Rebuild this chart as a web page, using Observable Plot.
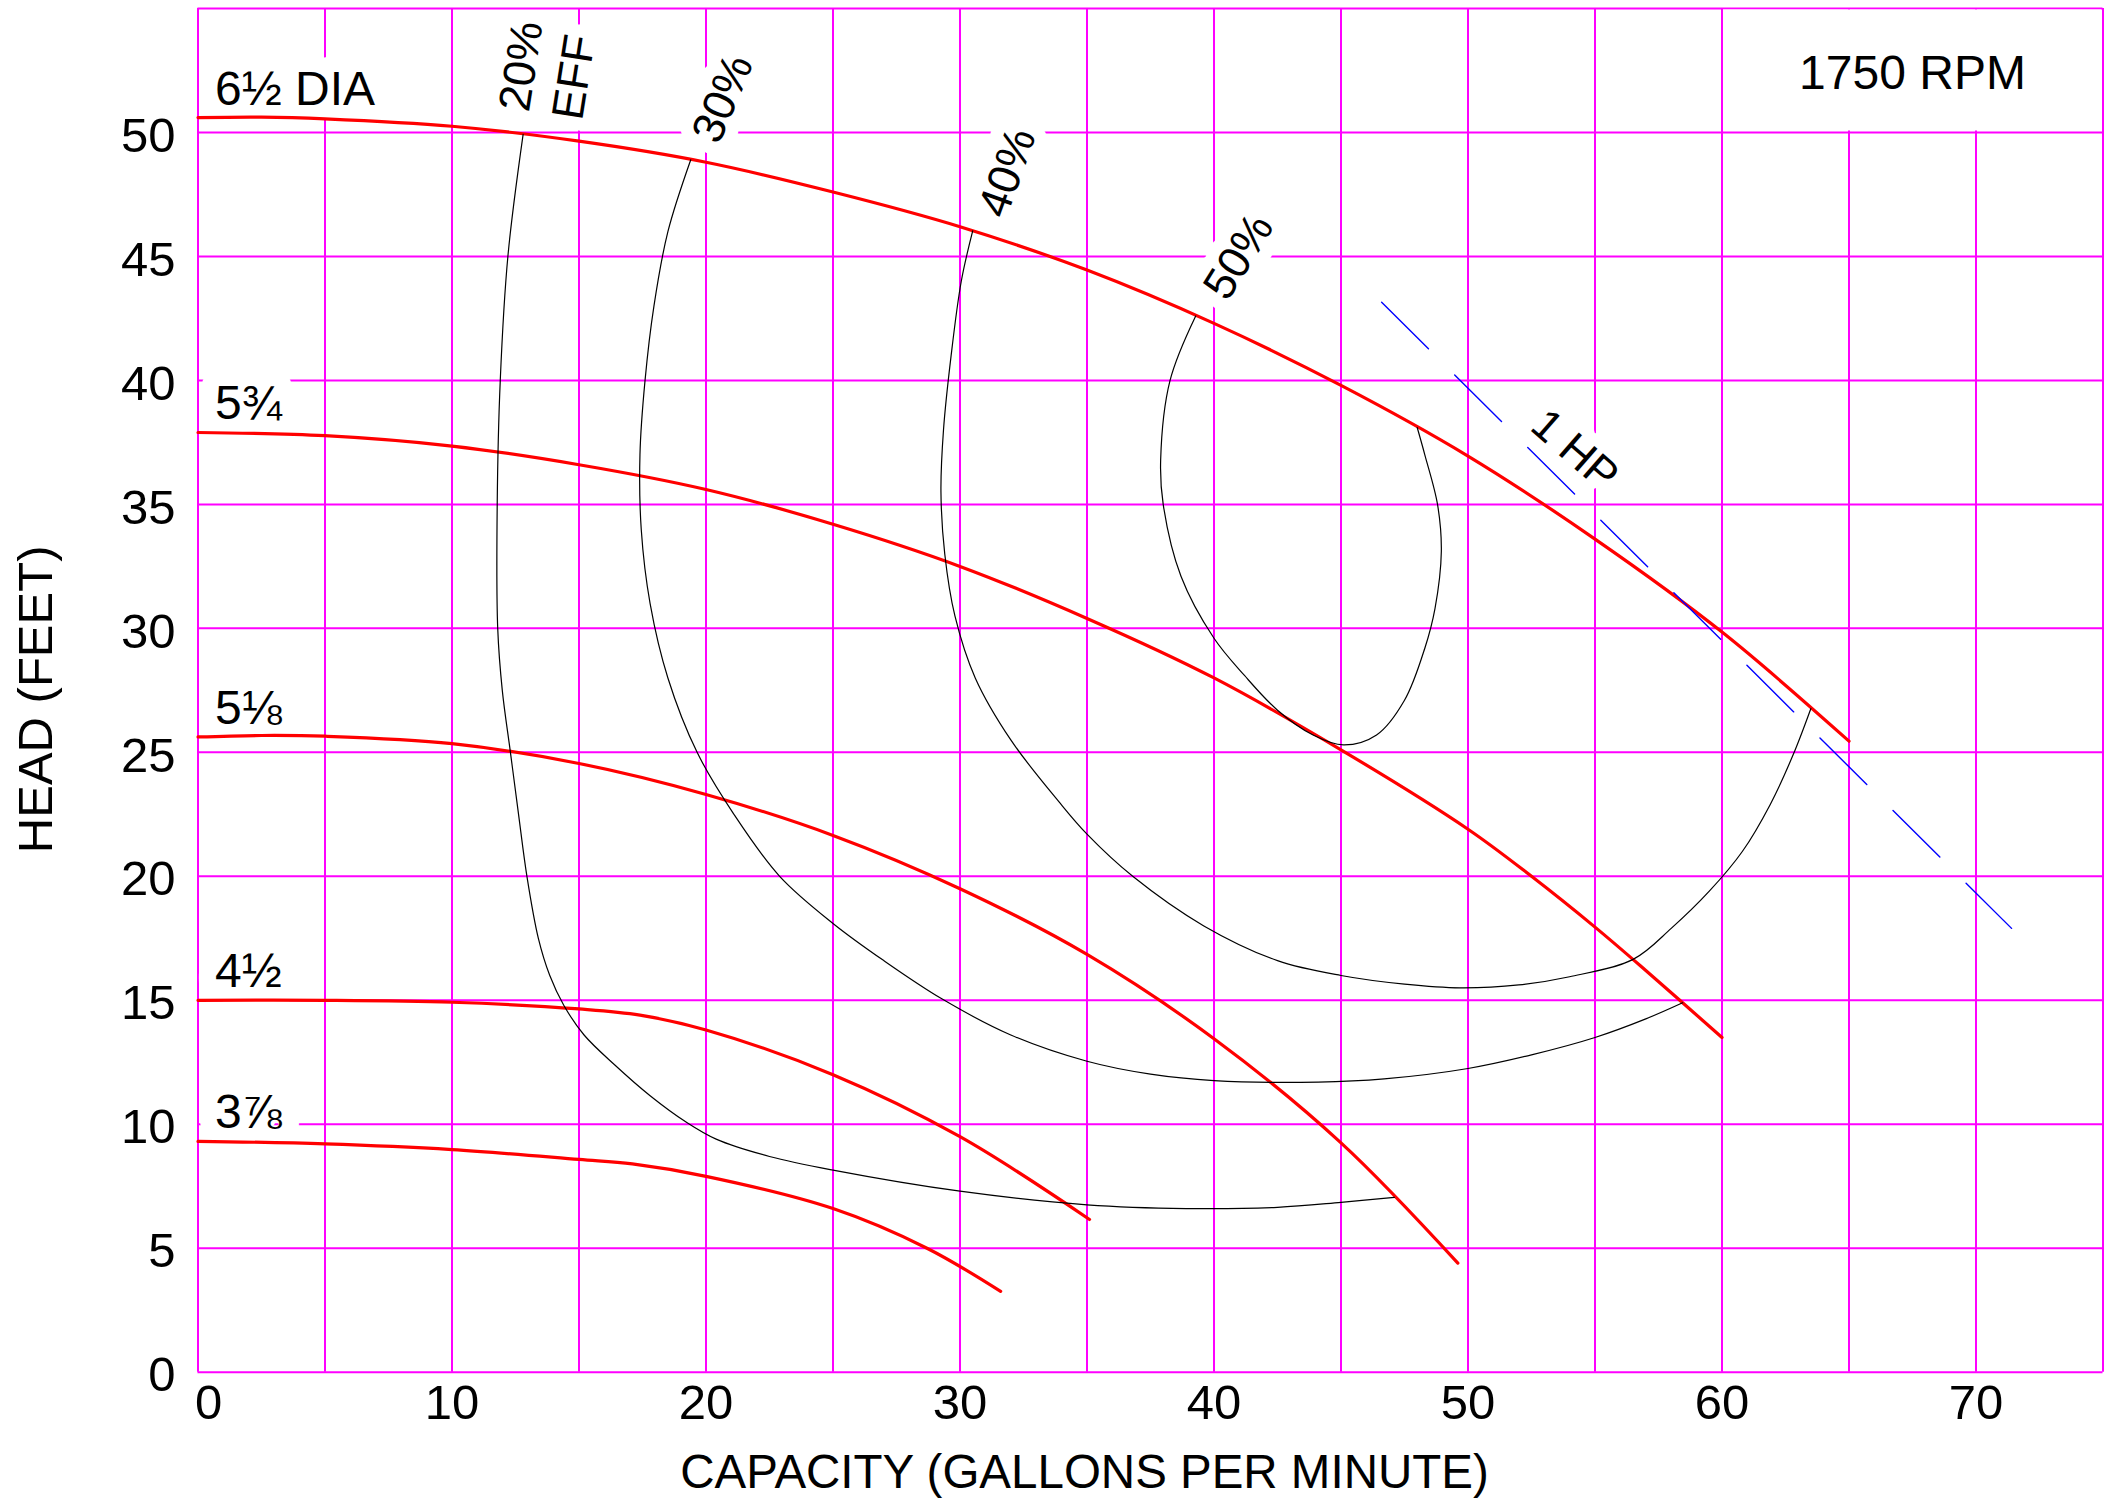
<!DOCTYPE html>
<html>
<head>
<meta charset="utf-8">
<script src="https://cdn.jsdelivr.net/npm/d3@7"></script>
<script src="https://cdn.jsdelivr.net/npm/@observablehq/plot@0.6"></script>
<style>
html, body { margin: 0; padding: 0; background: #fff; }
#chart svg { display: block; }
</style>
</head>
<body>
<div id="chart"></div>
<script>
// ---------------- DATA ----------------
// Head–capacity curves for each impeller diameter (capacity in GPM, head in feet)
const dia65Q   = [0, 2.5, 5, 10, 15, 20, 25, 30, 35, 40, 45, 50, 55, 60, 65];
const dia65H   = [50.6, 50.62, 50.55, 50.25, 49.65, 48.8, 47.6, 46.2, 44.45, 42.3, 39.8, 36.95, 33.6, 29.85, 25.45];
const dia575Q  = [0, 5, 10, 15, 20, 25, 30, 35, 40, 45, 50, 52.5, 55, 57, 60];
const dia575H  = [37.9, 37.77, 37.35, 36.6, 35.6, 34.2, 32.5, 30.4, 28.0, 25.1, 21.9, 20.0, 17.95, 16.2, 13.5];
const dia5125Q = [0, 2.5, 5, 10, 15, 20, 25, 30, 35, 40, 45, 49.6];
const dia5125H = [25.62, 25.68, 25.65, 25.35, 24.55, 23.3, 21.65, 19.5, 16.85, 13.45, 9.25, 4.4];
const dia45Q   = [0, 5, 10, 15, 17.4, 20, 25, 30, 35.1];
const dia45H   = [15.0, 15.0, 14.92, 14.65, 14.4, 13.8, 12.0, 9.5, 6.16];
const dia3875Q = [0, 5, 10, 15, 17.1, 20, 25, 28.7, 31.6];
const dia3875H = [9.31, 9.21, 8.98, 8.58, 8.4, 7.9, 6.6, 5.0, 3.26];
const diaNames = ["6½ DIA", "5¾", "5⅛", "4½", "3⅞"];

// Iso-efficiency curves
const eff20Q = [12.8, 12.2, 11.9, 11.78, 11.8, 11.98, 12.3, 12.62, 12.95, 13.4, 13.85, 14.4, 15.2, 16.4, 17.8, 19.2, 20.4, 22.5, 25, 30, 35, 38.9, 42.5, 45, 47.1];
const eff20H = [49.92, 45, 40, 35, 30, 27.5, 25, 22.5, 20, 17.5, 16, 14.8, 13.6, 12.4, 11.15, 10.1, 9.4, 8.7, 8.15, 7.3, 6.75, 6.6, 6.65, 6.85, 7.05];
const eff30Q = [19.4, 18.5, 17.95, 17.6, 17.4, 17.45, 17.8, 18.5, 19.65, 21.1, 22.9, 25, 27, 29.3, 32, 35, 37.5, 40, 44.1, 46.7, 50, 52.5, 55, 57, 58.45];
const eff30H = [48.9, 46, 43, 40, 37, 34, 31, 28, 25, 22.5, 20, 18.1, 16.6, 15.05, 13.6, 12.54, 12.02, 11.76, 11.7, 11.83, 12.25, 12.8, 13.5, 14.25, 14.9];
const eff40Q = [30.5, 30.05, 29.65, 29.35, 29.25, 29.4, 29.8, 30.6, 32.0, 33.9, 35, 36.8, 39.6, 42.5, 45, 47.5, 49.7, 52, 54, 56.5, 58, 59.5, 60.8, 61.9, 62.8, 63.5];
const eff40H = [46.03, 44, 41, 38, 35.5, 33, 30.5, 28, 25.5, 23, 21.7, 20, 18, 16.6, 16.0, 15.65, 15.5, 15.62, 15.95, 16.65, 17.9, 19.4, 21.0, 22.9, 24.9, 26.77];
const eff50Q = [39.28, 38.27, 37.9, 38.0, 38.7, 40, 41.2, 42.5, 43.9, 45.1, 46.4, 47.5, 48.3, 48.7, 48.95, 48.8, 48.3, 48.0];
const eff50H = [42.6, 40, 36.8, 35, 32.1, 29.6, 28.1, 26.7, 25.7, 25.3, 25.7, 27.1, 29.2, 30.8, 33.1, 35, 37.0, 38.1];
const effNames = ["20%\nEFF", "30%", "40%", "50%"];

// 1 HP power limit line
const hpQ = [46.6, 71.4];
const hpH = [43.15, 17.9];
const hpName = "1 HP";

// Speed note box (grid cell region, in data units)
const rpmBox = {x1: 60, x2: 75, y1: 50, y2: 55, text: "1750 RPM"};

// Axes
const xTicks = [0, 10, 20, 30, 40, 50, 60, 70];
const yTicks = [0, 5, 10, 15, 20, 25, 30, 35, 40, 45, 50];
const gridX = [0, 5, 10, 15, 20, 25, 30, 35, 40, 45, 50, 55, 60, 65, 70, 75];
const gridY = [0, 5, 10, 15, 20, 25, 30, 35, 40, 45, 50, 55];
const xTitle = "CAPACITY (GALLONS PER MINUTE)";
const yTitle = "HEAD (FEET)";

// ---------------- BUILD ----------------
const zip = (name, Q, Hd) => Q.map((q, i) => ({name, q, h: Hd[i]}));
const diaSeries = [
  zip(diaNames[0], dia65Q, dia65H),
  zip(diaNames[1], dia575Q, dia575H),
  zip(diaNames[2], dia5125Q, dia5125H),
  zip(diaNames[3], dia45Q, dia45H),
  zip(diaNames[4], dia3875Q, dia3875H)
];
const effSeries = [
  zip(effNames[0], eff20Q, eff20H),
  zip(effNames[1], eff30Q, eff30H),
  zip(effNames[2], eff40Q, eff40H),
  zip(effNames[3], eff50Q, eff50H)
];
const hpSeries = zip(hpName, hpQ, hpH);

const FONT = "'Liberation Sans', Arial, Helvetica, sans-serif";
const MAGENTA = "#ff00ff", RED = "#ff0000", BLUE = "#0000ff";

// label styling (placement offsets in px and rotation)
const effStyle = [
  {rotate: -81, dx: 59, dy: -13},
  {rotate: -67, dx: 28, dy: -14},
  {rotate: -70, dx: 33, dy: -11},
  {rotate: -58, dx: 31.5, dy: -13.5}
];

function labelMarks(halo) {
  const style = (w) => halo
    ? {fill: "white", stroke: "white", strokeWidth: w, strokeLinejoin: "round"}
    : {fill: "black"};
  const marks = [];
  diaSeries.forEach(s => {
    marks.push(Plot.text([s[0]], {
      x: "q", y: "h", text: "name", textAnchor: "start", lineAnchor: "bottom",
      dx: 17, dy: -13, fontSize: 48, ...style(34)
    }));
  });
  effSeries.forEach((s, i) => {
    marks.push(Plot.text([s[0]], {
      x: "q", y: "h", text: "name", textAnchor: "start", lineAnchor: "bottom",
      lineHeight: 1.2, rotate: effStyle[i].rotate, dx: effStyle[i].dx, dy: effStyle[i].dy,
      fontSize: 45, ...style(26)
    }));
  });
  marks.push(Plot.text([hpSeries[0]], {
    x: "q", y: "h", text: "name", textAnchor: "middle", lineAnchor: "middle",
    rotate: 41, dx: 193, dy: 148, fontSize: 44, ...style(26)
  }));
  return marks;
}

const chart = Plot.plot({
  width: 2107,
  height: 1499,
  marginTop: 8,
  marginRight: 4.5,
  marginBottom: 127.3,
  marginLeft: 197.5,
  x: {domain: [0, 75], axis: null},
  y: {domain: [0, 55], axis: null},
  style: {fontFamily: FONT, background: "white", color: "black"},
  marks: [
    Plot.ruleX(gridX, {stroke: MAGENTA, strokeWidth: 2}),
    Plot.ruleY(gridY, {stroke: MAGENTA, strokeWidth: 2}),
    Plot.rect([rpmBox], {x1: "x1", x2: "x2", y1: "y1", y2: "y2", fill: "white", inset: 1.5}),
    ...labelMarks(true),
    ...diaSeries.map(s => Plot.line(s, {x: "q", y: "h", stroke: RED, strokeWidth: 3.2, curve: "catmull-rom"})),
    ...effSeries.map(s => Plot.line(s, {x: "q", y: "h", stroke: "black", strokeWidth: 1.2, curve: "catmull-rom"})),
    Plot.line(hpSeries, {x: "q", y: "h", stroke: BLUE, strokeWidth: 1.4, strokeDasharray: "66,37"}),
    ...labelMarks(false),
    Plot.text([rpmBox], {
      x: d => (d.x1 + d.x2) / 2, y: d => (d.y1 + d.y2) / 2, text: "text",
      textAnchor: "middle", lineAnchor: "middle", dy: 3, fontSize: 48, fill: "black"
    }),
    // tick labels
    Plot.text(yTicks, {
      frameAnchor: "left", y: d => d, text: d => String(d),
      textAnchor: "end", lineAnchor: "middle", dx: -22.5, dy: 3.5, fontSize: 49, fill: "black"
    }),
    Plot.text(xTicks.filter(d => d > 0), {
      frameAnchor: "bottom", x: d => d, text: d => String(d),
      textAnchor: "middle", lineAnchor: "top", dy: 12.3, fontSize: 49, fill: "black"
    }),
    Plot.text(xTicks.filter(d => d === 0), {
      frameAnchor: "bottom", x: d => d, text: d => String(d),
      textAnchor: "start", lineAnchor: "top", dx: -3, dy: 12.3, fontSize: 49, fill: "black"
    }),
    // axis titles
    Plot.text([yTitle], {
      frameAnchor: "left", text: d => d, rotate: -90,
      textAnchor: "middle", lineAnchor: "bottom", dx: -145.8, dy: 9, fontSize: 49, fill: "black"
    }),
    Plot.text([xTitle], {
      frameAnchor: "bottom", text: d => d,
      textAnchor: "middle", lineAnchor: "bottom", dx: -66, dy: 115.3, fontSize: 47.5, fill: "black"
    })
  ]
});

document.getElementById("chart").appendChild(chart);
</script>
</body>
</html>
